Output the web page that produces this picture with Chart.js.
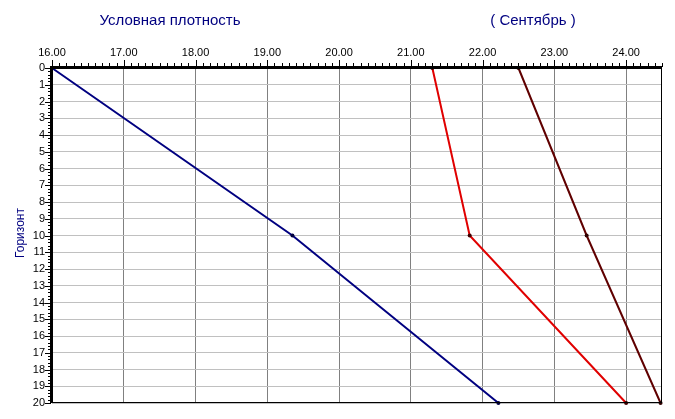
<!DOCTYPE html>
<html>
<head>
<meta charset="utf-8">
<script src="https://cdn.jsdelivr.net/npm/chart.js@4"></script>
<style>
  html, body { margin: 0; padding: 0; background: #fff; }
  canvas { display: block; }
</style>
</head>
<body>
<canvas id="grafico" width="675" height="419"></canvas>
<script>
// data
const depths = [0, 10, 20];
const navySeries = [16.00, 19.35, 22.22];
const redSeries = [21.30, 21.82, 24.00];
const brownSeries = [22.50, 23.45, 24.48];
const titleLeft = "Условная плотность";
const titleRight = "( Сентябрь )";
const yTitle = "Горизонт";

const FONT = "'Liberation Sans', Arial, sans-serif";

function pts(xs) {
    return xs.map((x, i) => ({ x: x, y: depths[i] }));
}

// minor ticks, frame and titles
const decor = {
    id: 'decor',
    afterDraw(chart) {
        const c = chart.ctx, a = chart.chartArea;
        const xs = chart.scales.x, ys = chart.scales.y;
        c.save();
        c.strokeStyle = '#000';
        c.lineWidth = 1;
        c.beginPath();
        for (let i = 0; i <= 85; i++) {
            const px = Math.round(xs.getPixelForValue(16 + i / 10)) + 0.5;
            const len = i % 10 === 0 ? 7 : 4;
            c.moveTo(px, a.top - 1);
            c.lineTo(px, a.top - 1 - len);
        }
        for (let i = 0; i <= 100; i++) {
            const py = Math.round(ys.getPixelForValue(i / 5)) + 0.5;
            const len = i % 5 === 0 ? 6 : 3;
            c.moveTo(a.left - 1, py);
            c.lineTo(a.left - 1 - len, py);
        }
        c.stroke();

        // frame
        c.lineWidth = 1;
        c.strokeRect(a.left + 0.5, a.top + 0.5, a.right - a.left - 1, a.bottom - a.top - 1);
        c.lineWidth = 2;
        c.beginPath();
        c.moveTo(a.left - 1, a.bottom);
        c.lineTo(a.left - 1, a.top - 1);
        c.lineTo(a.right, a.top - 1);
        c.stroke();

        // titles
        c.fillStyle = '#000080';
        c.font = '15px ' + FONT;
        c.textAlign = 'center';
        c.textBaseline = 'middle';
        c.fillText(titleLeft, 170, 21);
        c.fillText(titleRight, 533, 21);

        c.font = '12px ' + FONT;
        c.translate(21, 233);
        c.rotate(-Math.PI / 2);
        c.fillText(yTitle, 0, 0);
        c.restore();
    }
};

new Chart(document.getElementById('grafico'), {
    type: 'scatter',
    data: {
        datasets: [
            { data: pts(navySeries), borderColor: '#000080', pointBackgroundColor: '#000040' },
            { data: pts(redSeries), borderColor: '#e00000', pointBackgroundColor: '#400000' },
            { data: pts(brownSeries), borderColor: '#600000', pointBackgroundColor: '#300000' }
        ].map(d => Object.assign(d, {
            showLine: true,
            borderWidth: 2,
            pointRadius: 2,
            pointBorderWidth: 0,
            clip: false
        }))
    },
    options: {
        responsive: false,
        animation: false,
        devicePixelRatio: 1,
        layout: { padding: { left: 0, top: 0, right: 13, bottom: 16 } },
        plugins: { legend: { display: false }, tooltip: { enabled: false } },
        scales: {
            x: {
                type: 'linear',
                position: 'top',
                min: 16,
                max: 24.5,
                afterFit: s => { s.height = 68; },
                afterBuildTicks: s => {
                    s.ticks = [16, 17, 18, 19, 20, 21, 22, 23, 24].map(v => ({ value: v }));
                },
                ticks: {
                    callback: v => v.toFixed(2),
                    color: '#000',
                    font: { family: FONT, size: 11 },
                    padding: 8,
                    maxRotation: 0,
                    autoSkip: false
                },
                grid: { color: '#808080', drawTicks: false, lineWidth: 1 },
                border: { display: false }
            },
            y: {
                type: 'linear',
                reverse: true,
                min: 0,
                max: 20,
                afterFit: s => { s.width = 52; },
                ticks: {
                    stepSize: 1,
                    color: '#000',
                    font: { family: FONT, size: 11 },
                    padding: 7,
                    autoSkip: false
                },
                grid: { color: '#c0c0c0', drawTicks: false, lineWidth: 1 },
                border: { display: false }
            }
        }
    },
    plugins: [decor]
});
</script>
</body>
</html>
